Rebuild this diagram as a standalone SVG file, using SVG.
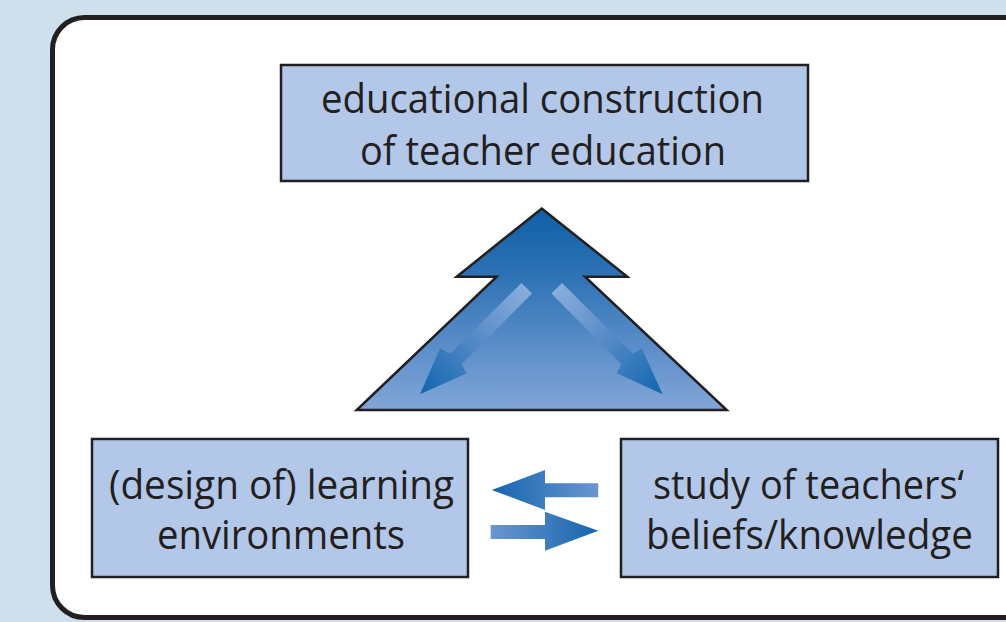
<svg xmlns="http://www.w3.org/2000/svg" width="1006" height="622" viewBox="0 0 1006 622">
  <defs>
    <style>
      .box { fill: #b3c7e8; stroke: #231f20; stroke-width: 2.5; }
      .label { font-family: "Open Sans", "Noto Sans", sans-serif; font-size: 39.5px; fill: #231f20; text-anchor: middle; }
    </style>
    <linearGradient id="triFill" x1="0" y1="208" x2="0" y2="410" gradientUnits="userSpaceOnUse">
      <stop offset="0" stop-color="#0f5fa6"/>
      <stop offset="0.3" stop-color="#2a70b3"/>
      <stop offset="1" stop-color="#82a6d9"/>
    </linearGradient>
    <linearGradient id="diagL" x1="527" y1="288" x2="420" y2="394" gradientUnits="userSpaceOnUse">
      <stop offset="0" stop-color="#8aaedc"/>
      <stop offset="0.45" stop-color="#5a8cc8"/>
      <stop offset="1" stop-color="#0f66b0"/>
    </linearGradient>
    <linearGradient id="diagR" x1="557" y1="288" x2="663" y2="394" gradientUnits="userSpaceOnUse">
      <stop offset="0" stop-color="#8aaedc"/>
      <stop offset="0.45" stop-color="#5a8cc8"/>
      <stop offset="1" stop-color="#0f66b0"/>
    </linearGradient>
    <linearGradient id="horL" x1="598" y1="0" x2="492" y2="0" gradientUnits="userSpaceOnUse">
      <stop offset="0" stop-color="#6a96d0"/>
      <stop offset="1" stop-color="#1565ad"/>
    </linearGradient>
    <linearGradient id="horR" x1="491" y1="0" x2="598" y2="0" gradientUnits="userSpaceOnUse">
      <stop offset="0" stop-color="#6a96d0"/>
      <stop offset="1" stop-color="#1565ad"/>
    </linearGradient>
  </defs>

  <!-- backdrop and frame -->
  <rect x="0" y="0" width="1006" height="622" fill="#cde0ec"/>
  <rect x="52.5" y="17.5" width="990" height="600" rx="32" ry="32" fill="#ffffff" stroke="#231f20" stroke-width="5"/>

  <!-- central triangle with diagonal arrows -->
  <g id="triangle">
    <polygon points="541.7,208.5 627.3,276.7 585,276.7 726.7,410 356.7,410 496.7,276.7 456.7,276.7" fill="url(#triFill)" stroke="#231f20" stroke-width="2.5" stroke-linejoin="miter"/>
    <path d="M521.4,283 L532,293.6 L461.5,364.3 L466.7,373.3 L420,394.3 L440,348.3 L450.2,353.5 Z" fill="url(#diagL)"/>
    <path d="M562,283 L551.4,293.6 L621.5,364.3 L616.7,373.3 L662.7,394.3 L641.7,348.3 L632.8,353.5 Z" fill="url(#diagR)"/>
  </g>

  <g id="node-top">
    <rect class="box" x="281" y="65" width="527" height="116"/>
    <text class="label" x="542.5" y="113" textLength="443" lengthAdjust="spacingAndGlyphs">educational construction</text>
    <text class="label" x="543" y="165" textLength="366" lengthAdjust="spacingAndGlyphs">of teacher education</text>
  </g>

  <g id="node-left">
    <rect class="box" x="92" y="439" width="376" height="138"/>
    <text class="label" x="281.5" y="499" textLength="345" lengthAdjust="spacingAndGlyphs">(design of) learning</text>
    <text class="label" x="281" y="549" textLength="248" lengthAdjust="spacingAndGlyphs">environments</text>
  </g>

  <g id="node-right">
    <rect class="box" x="621" y="439" width="377" height="138"/>
    <text class="label" x="808.5" y="499" textLength="311" lengthAdjust="spacingAndGlyphs">study of teachers‘</text>
    <text class="label" x="809.5" y="549" textLength="327" lengthAdjust="spacingAndGlyphs">beliefs/knowledge</text>
  </g>

  <!-- connectors between the lower nodes -->
  <g id="connectors">
    <polygon points="491.7,490 545,470 545,483.3 598.3,483.3 598.3,497.3 545,497.3 545,510" fill="url(#horL)"/>
    <polygon points="598.3,530.7 545,511.7 545,525 490.7,525 490.7,539 545,539 545,550.7" fill="url(#horR)"/>
  </g>
</svg>
